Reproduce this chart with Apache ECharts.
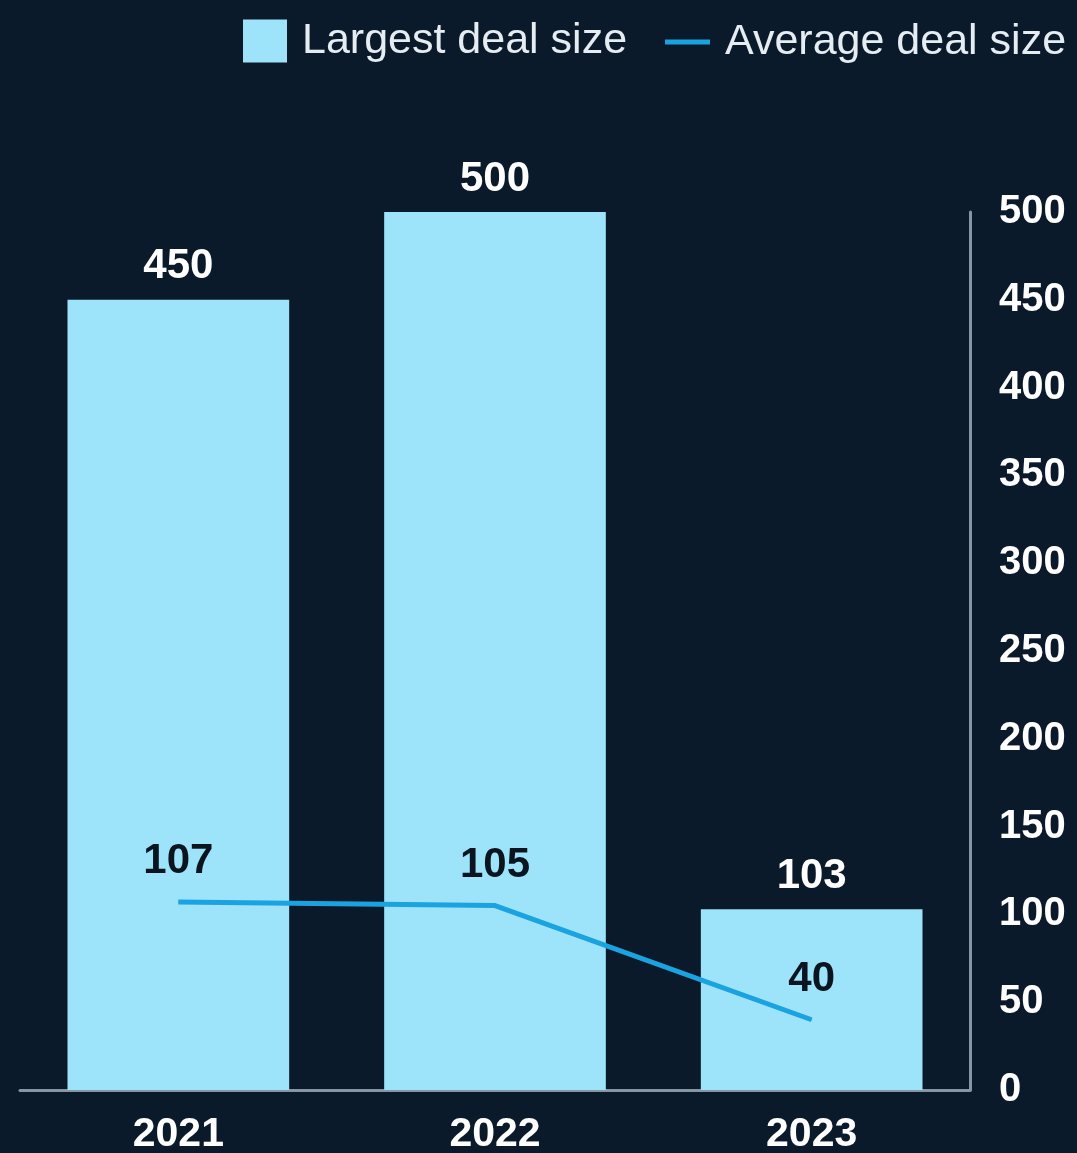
<!DOCTYPE html>
<html>
<head>
<meta charset="utf-8">
<script src="https://cdn.jsdelivr.net/npm/echarts@6/dist/echarts.min.js"></script>
<style>
  html, body { margin: 0; padding: 0; background: #0b1a2a; }
  #chart { width: 1077px; height: 1153px; }
</style>
</head>
<body>
<div id="chart"></div>
<script>
var years = ['2021', '2022', '2023'];
var largestDeal = [450, 500, 103];
var averageDeal = [107, 105, 40];
var yTicks = [0, 50, 100, 150, 200, 250, 300, 350, 400, 450, 500];

var FONT = '"Liberation Sans", Arial, sans-serif';

var option = {
  backgroundColor: '#0b1a2a',
  animation: false,
  legend: [{
    data: ['Largest deal size'],
    left: 238,
    top: 11,
    icon: 'rect',
    itemWidth: 44,
    itemHeight: 43,
    textStyle: { color: '#e6edf2', fontSize: 43, fontFamily: FONT, padding: [0, 0, 0, 10], lineHeight: 50 }
  }, {
    data: ['Average deal size'],
    left: 660,
    top: 12,
    icon: 'rect',
    itemWidth: 45,
    itemHeight: 5,
    textStyle: { color: '#e6edf2', fontSize: 43, fontFamily: FONT, padding: [0, 0, 0, 10], lineHeight: 50 }
  }],
  grid: {
    left: 20,
    right: 107,
    top: 212,
    bottom: 63,
    outerBoundsMode: 'none'
  },
  xAxis: {
    type: 'category',
    data: years,
    axisLine: { lineStyle: { color: '#8796a5', width: 3 } },
    axisTick: { show: false },
    axisLabel: { color: '#ffffff', fontSize: 41, fontWeight: 'bold', fontFamily: FONT, margin: 24 }
  },
  yAxis: {
    type: 'value',
    position: 'right',
    min: 0,
    max: 500,
    interval: 50,
    axisLine: { show: true, lineStyle: { color: '#8796a5', width: 3 } },
    axisTick: { show: false },
    splitLine: { show: false },
    axisLabel: {
      color: '#ffffff', fontSize: 40, fontWeight: 'bold', fontFamily: FONT, margin: 29,
      formatter: function (v) { return yTicks.indexOf(v) >= 0 ? String(v) : ''; }
    }
  },
  series: [{
    name: 'Largest deal size',
    type: 'bar',
    data: largestDeal,
    barWidth: '70%',
    itemStyle: { color: '#9de4fb' },
    label: {
      show: true, position: 'top', distance: 12,
      color: '#ffffff', fontSize: 42, fontWeight: 'bold', fontFamily: FONT
    }
  }, {
    name: 'Average deal size',
    type: 'line',
    data: averageDeal,
    showSymbol: true,
    symbol: 'circle',
    symbolSize: 1,
    lineStyle: { color: '#1aa3e0', width: 5 },
    itemStyle: { color: '#1aa3e0' },
    label: {
      show: true, position: 'top', distance: 19,
      color: '#0b1520', fontSize: 42, fontWeight: 'bold', fontFamily: FONT
    }
  }]
};

var chart = echarts.init(document.getElementById('chart'));
chart.setOption(option);
</script>
</body>
</html>
